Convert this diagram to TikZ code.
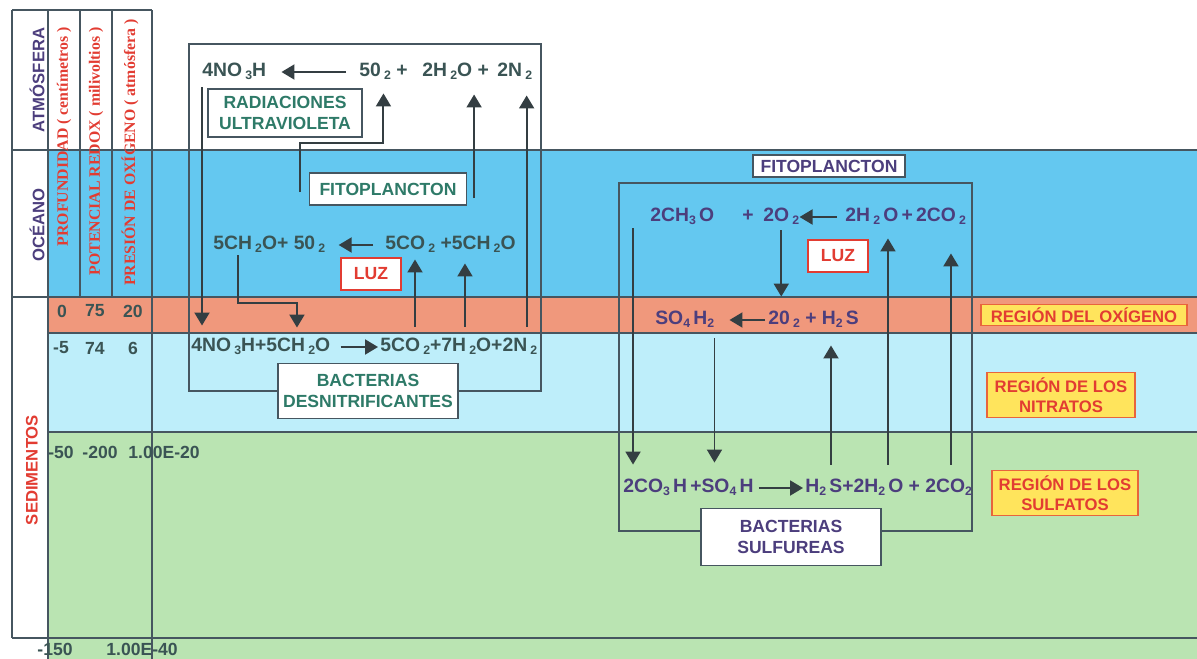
\documentclass[tikz,border=0pt]{standalone}
\usepackage{fontspec}
\setmainfont{Liberation Sans}
\newfontfamily\headfont{Liberation Serif}
\usepackage{tikz}
\usetikzlibrary{positioning, arrows.meta}
\usepackage{xcolor}

\definecolor{oceanblue}{RGB}{100,200,240}
\definecolor{oxyband}{RGB}{240,152,124}
\definecolor{nitband}{RGB}{190,238,250}
\definecolor{sulfband}{RGB}{186,228,178}
\definecolor{gridline}{RGB}{70,86,96}
\definecolor{arrowgray}{RGB}{52,62,66}
\definecolor{eqgray}{RGB}{58,84,84}
\definecolor{eqindigo}{RGB}{76,62,125}
\definecolor{labteal}{RGB}{46,122,104}
\definecolor{labred}{RGB}{226,60,50}
\definecolor{regyellow}{RGB}{255,228,92}
\definecolor{regborder}{RGB}{232,100,60}

\newcommand{\sbs}[1]{\raisebox{-0.3ex}{\fontsize{7}{7}\selectfont #1}}

\begin{document}
\begin{tikzpicture}[
  x=0.02cm, y=-0.02cm,
  eq/.style={font=\bfseries\fontsize{11}{13}\selectfont, text=eqgray, inner sep=0pt,
             text height=8.5pt, text depth=3pt, anchor=west},
  eqR/.style={eq, text=eqindigo},
  tag/.style={draw=gridline, line width=0.7pt, fill=white, text=labteal, align=center,
              font=\bfseries\fontsize{10}{12}\selectfont, inner sep=0pt},
  tagR/.style={tag, text=eqindigo},
  luz/.style={draw=labred, line width=0.7pt, fill=white, text=labred, inner sep=0pt,
              font=\bfseries\fontsize{10}{12}\selectfont, minimum width=1.2cm, minimum height=0.64cm},
  region/.style={draw=regborder, line width=1pt, fill=regyellow, text=labred, align=center,
                 font=\bfseries\fontsize{9.5}{11.5}\selectfont, inner sep=0pt},
  num/.style={font=\bfseries\fontsize{10}{12}\selectfont, text=eqgray, inner sep=0pt},
  colhead/.style={font=\headfont\bfseries\fontsize{9}{11}\selectfont, text=labred,
                  rotate=90, anchor=east, inner sep=0pt},
  zone/.style={font=\bfseries\fontsize{9.5}{11}\selectfont, rotate=90, inner sep=0pt},
  arr/.style={draw=arrowgray, line width=1.1pt, -{Triangle[length=0.26cm, width=0.3cm]}}
]
  \useasboundingbox (0,0) rectangle (1197,659);

  % --- bands ---
  \fill[oceanblue] (48,150) rectangle (1197,297);
  \fill[oxyband]   (48,297) rectangle (1197,333);
  \fill[nitband]   (48,333) rectangle (1197,432);
  \fill[sulfband]  (48,432) rectangle (1197,659);

  % --- table lines ---
  \draw[gridline, line width=0.6pt] (12,10) -- (152,10);
  \draw[gridline, line width=0.6pt] (12,150) -- (1197,150);
  \draw[gridline, line width=0.6pt] (12,297) -- (1197,297);
  \draw[gridline, line width=0.6pt] (48,333) -- (1197,333);
  \draw[gridline, line width=0.6pt] (48,432) -- (1197,432);
  \draw[gridline, line width=0.6pt] (12,638) -- (1197,638);
  \draw[gridline, line width=0.6pt] (12,10) -- (12,638);
  \draw[gridline, line width=0.6pt] (48,10) -- (48,659);
  \draw[gridline, line width=0.6pt] (80,10) -- (80,297);
  \draw[gridline, line width=0.6pt] (112,10) -- (112,297);
  \draw[gridline, line width=0.6pt] (152,10) -- (152,659);

  % --- left column: zones and headers ---
  \node[zone, text=eqindigo] (atm) at (37,80)  {ATMÓSFERA};
  \node[zone, text=eqindigo] (oce) at (37,225) {OCÉANO};
  \node[zone, text=labred]   (sed) at (32,470) {SEDIMENTOS};
  \node[colhead] (prof)  at (64,27)  {PROFUNDIDAD ( centímetros )};
  \node[colhead] (redox) at (96,27)  {POTENCIAL REDOX ( milivoltios )};
  \node[colhead] (pres)  at (130,19) {PRESIÓN DE OXÍGENO ( atmósfera )};

  % --- values ---
  \node[num] (d0) at (62,311) {0};
  \node[num] (e0) at (95,311) {75};
  \node[num] (p0) at (133,311) {20};
  \node[num] (d1) at (61,348) {-5};
  \node[num] (e1) at (95,348) {74};
  \node[num] (p1) at (133,348) {6};
  \node[num] (d2) at (61,452) {-50};
  \node[num] (e2) at (100,452) {-200};
  \node[num] (p2) at (164,452) {1.00E-20};
  \node[num] (d3) at (55,649) {-150};
  \node[num] (p3) at (142,649) {1.00E-40};

  % --- nitrogen cycle ---
  \draw[gridline, line width=0.8pt] (189,44) rectangle (541,391);
  \node[eq] (t1) at (202,72) {4NO\,\sbs{3}H};
  \node[eq] (t2) at (359,72) {50\,\sbs{2} +};
  \node[eq] (t3) at (422,72) {2H\,\sbs{2}O +};
  \node[eq] (t4) at (497,72) {2N\,\sbs{2}};
  \node[tag, minimum width=3.08cm, minimum height=0.96cm] (uv) at (285,113) {RADIACIONES\\ULTRAVIOLETA};
  \node[tag, minimum width=3.14cm, minimum height=0.64cm] (fitoL) at (388,189) {FITOPLANCTON};
  \node[eq] (o1) at (213,245) {5CH\,\sbs{2}O+ 50\,\sbs{2}};
  \node[eq] (o2) at (385,245) {5CO\,\sbs{2} +5CH\,\sbs{2}O};
  \node[luz] (luzL) at (371,274) {LUZ};
  \node[eq] (b1) at (191,347) {4NO\,\sbs{3}H+5CH\,\sbs{2}O};
  \node[eq] (b2) at (380,347) {5CO\,\sbs{2}+7H\,\sbs{2}O+2N\,\sbs{2}};
  \node[tag, minimum width=3.6cm, minimum height=1.1cm] (bactD) at (368,391) {BACTERIAS\\DESNITRIFICANTES};

  \draw[arr, shorten <=0.26cm, shorten >=0.3cm] (t2.west) -- (t1.east);
  \draw[arr, shorten <=0.1cm, shorten >=0.22cm] (t1.south west) -- (t1.south west |- b1.north);
  \draw[arr, shorten >=0.22cm] ([xshift=-0.18cm, yshift=-0.06cm]fitoL.west) -- ++(0,-49) -| (t2.south);
  \draw[arr, shorten >=0.24cm] ([xshift=0.14cm, yshift=-0.18cm]fitoL.east) -- ([xshift=0.14cm]fitoL.east |- t3.south);
  \draw[arr, shorten <=0.2cm, shorten >=0.26cm] ([xshift=-0.22cm]b2.north east) -- ([xshift=-0.22cm]b2.north east |- t4.south);
  \draw[arr, shorten <=0.24cm, shorten >=0.26cm] (o2.west) -- (o1.east);
  \draw[arr, shorten >=0.18cm] ([xshift=0.5cm]o1.south west) -- ++(0,48) -| ([xshift=2.12cm]b1.north west);
  \draw[arr, shorten <=0.2cm, shorten >=0.08cm] ([xshift=0.7cm]b2.north west) -- ([xshift=0.7cm]b2.north west |- o2.south);
  \draw[arr, shorten <=0.2cm, shorten >=0.16cm] ([xshift=1.7cm]b2.north west) -- ([xshift=1.7cm]b2.north west |- o2.south);
  \draw[arr, shorten <=0.2cm, shorten >=0.04cm] (b1.east) -- (b2.west);

  % --- sulphur cycle ---
  \draw[gridline, line width=0.8pt] (619,183) rectangle (972,531);
  \node[tagR, minimum width=3.04cm, minimum height=0.44cm] (fitoR) at (829,166) {FITOPLANCTON};
  \node[eqR] (r1a) at (650,217) {2CH\sbs{3}\,O};
  \node[eqR] (r1p) at (742,217) {+};
  \node[eqR] (r1b) at (763,217) {2O\,\sbs{2}};
  \node[eqR] (r1c) at (845,217) {2H\,\sbs{2}\,O\,+\,2CO\,\sbs{2}};
  \node[luz] (luzR) at (838,256) {LUZ};
  \node[eqR] (r2a) at (655,320) {SO\sbs{4}\,H\sbs{2}};
  \node[eqR] (r2b) at (768,320) {20\,\sbs{2} + H\sbs{2}\,S};
  \node[eqR] (r3a) at (623,488) {2CO\sbs{3}\,H\,+SO\sbs{4}\,H};
  \node[eqR] (r3b) at (805,488) {H\sbs{2}\,S+2H\sbs{2}\,O + 2CO\sbs{2}};
  \node[tagR, minimum width=3.6cm, minimum height=1.14cm] (bactS) at (791,537) {BACTERIAS\\SULFUREAS};

  \draw[arr, shorten <=0.16cm] (r1c.west) -- (r1b.east);
  \draw[arr, shorten <=0.02cm, shorten >=0.26cm] ([xshift=-0.34cm]r1a.south west) -- ([xshift=-0.34cm]r1a.south west |- r3a.north);
  \draw[arr, shorten <=0.06cm, shorten >=0.26cm] (r1b.south) -- (r1b.south |- r2b.north);
  \draw[arr, shorten <=0.06cm, shorten >=0.3cm] (r2b.west) -- (r2a.east);
  \draw[arr, shorten <=0.16cm, shorten >=0.3cm] (r2a.south east) -- (r2a.south east |- r3a.north);
  \draw[arr, shorten <=0.1cm, shorten >=0.04cm] (r3a.east) -- (r3b.west);
  \draw[arr, shorten <=0.26cm, shorten >=0.3cm] ([xshift=0.52cm]r3b.north west) -- ([xshift=0.52cm]r3b.north west |- r2b.south);
  \draw[arr, shorten <=0.26cm, shorten >=0.22cm] ([xshift=1.66cm]r3b.north west) -- ([xshift=1.66cm]r3b.north west |- r1c.south);
  \draw[arr, shorten <=0.26cm, shorten >=0.52cm] ([xshift=2.92cm]r3b.north west) -- ([xshift=2.92cm]r3b.north west |- r1c.south);

  % --- regions ---
  \node[region, minimum width=4.12cm, minimum height=0.42cm] (regO) at (1084,315) {REGIÓN DEL OXÍGENO};
  \node[region, minimum width=2.96cm, minimum height=0.9cm] (regN) at (1061,395) {REGIÓN DE LOS\\NITRATOS};
  \node[region, minimum width=2.92cm, minimum height=0.9cm] (regS) at (1065,493) {REGIÓN DE LOS\\SULFATOS};
\end{tikzpicture}
\end{document}
